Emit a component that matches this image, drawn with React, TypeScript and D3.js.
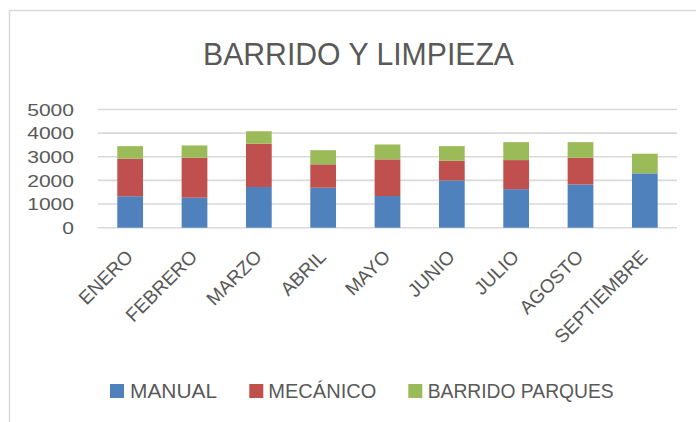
import React from "react";
import * as d3 from "d3";

const months = ["ENERO", "FEBRERO", "MARZO", "ABRIL", "MAYO", "JUNIO", "JULIO", "AGOSTO", "SEPTIEMBRE"];
const manual = [1330, 1270, 1720, 1690, 1340, 2000, 1630, 1830, 2300];
const mecanico = [1590, 1690, 1830, 990, 1550, 830, 1230, 1130, 0];
const parques = [530, 520, 530, 600, 630, 620, 760, 660, 830];
const seriesNames = ["MANUAL", "MECÁNICO", "BARRIDO PARQUES"];
const seriesColors = ["#4F81BD", "#C0504D", "#9BBB59"];
const yTicks = [0, 1000, 2000, 3000, 4000, 5000];

const W = 696;
const H = 422;
const plotLeft = 98;
const plotRight = 677;
const plotTop = 109.5;
const plotBottom = 227.7;
const textColor = "#595959";
const font = "'Liberation Sans', Arial, sans-serif";

export default function App() {
  const x = d3.scaleBand<string>().domain(months).range([plotLeft, plotRight]).paddingInner(0.6).paddingOuter(0.3);
  const y = d3.scaleLinear().domain([0, 5000]).range([plotBottom, plotTop]);

  const rows = months.map((m, i) => ({ month: m, s0: manual[i], s1: mecanico[i], s2: parques[i] }));
  const stack = d3.stack<any>().keys(["s0", "s1", "s2"]);
  const layers = stack(rows);

  const legendItems = [
    { sq: 110, tx: 130 },
    { sq: 249.3, tx: 268.3 },
    { sq: 408.3, tx: 427.7 },
  ];
  const legendWidths = [87, 108, 186];

  return (
    <svg width={W} height={H} style={{ position: "absolute", left: 0, top: 0, background: "#fff" }} fontFamily={font}>
      <rect x={9.5} y={10.5} width={800} height={800} fill="#fff" stroke="#D9D9D9" strokeWidth={1.5} />
      <text x={358.5} y={65} textAnchor="middle" fontSize={30.5} fill={textColor} textLength={311} lengthAdjust="spacingAndGlyphs">
        BARRIDO Y LIMPIEZA
      </text>
      {yTicks.map((t) => (
        <g key={t}>
          <line x1={plotLeft} x2={plotRight} y1={y(t)} y2={y(t)} stroke="#D9D9D9" strokeWidth={1.6} />
          <text x={74} y={y(t)} dy="0.36em" textAnchor="end" fontSize={17} fill={textColor}
            textLength={String(t).length * 11.7} lengthAdjust="spacingAndGlyphs">
            {t}
          </text>
        </g>
      ))}
      {layers.map((layer, li) => (
        <g key={li} fill={seriesColors[li]}>
          {layer.map((d, i) => (
            <rect key={i} x={x(months[i])} width={x.bandwidth()} y={y(d[1])} height={Math.max(0, y(d[0]) - y(d[1]))} />
          ))}
        </g>
      ))}
      {months.map((m) => {
        const cx = (x(m) as number) + x.bandwidth() / 2;
        return (
          <text key={m} transform={`translate(${cx + 4},${258}) rotate(-45)`} textAnchor="end" fontSize={19} fill={textColor}>
            {m}
          </text>
        );
      })}
      {seriesNames.map((n, i) => (
        <g key={n}>
          <rect x={legendItems[i].sq} y={384} width={14} height={14} fill={seriesColors[i]} />
          <text x={legendItems[i].tx} y={398} fontSize={20} fill={textColor} textLength={legendWidths[i]} lengthAdjust="spacingAndGlyphs">
            {n}
          </text>
        </g>
      ))}
    </svg>
  );
}
